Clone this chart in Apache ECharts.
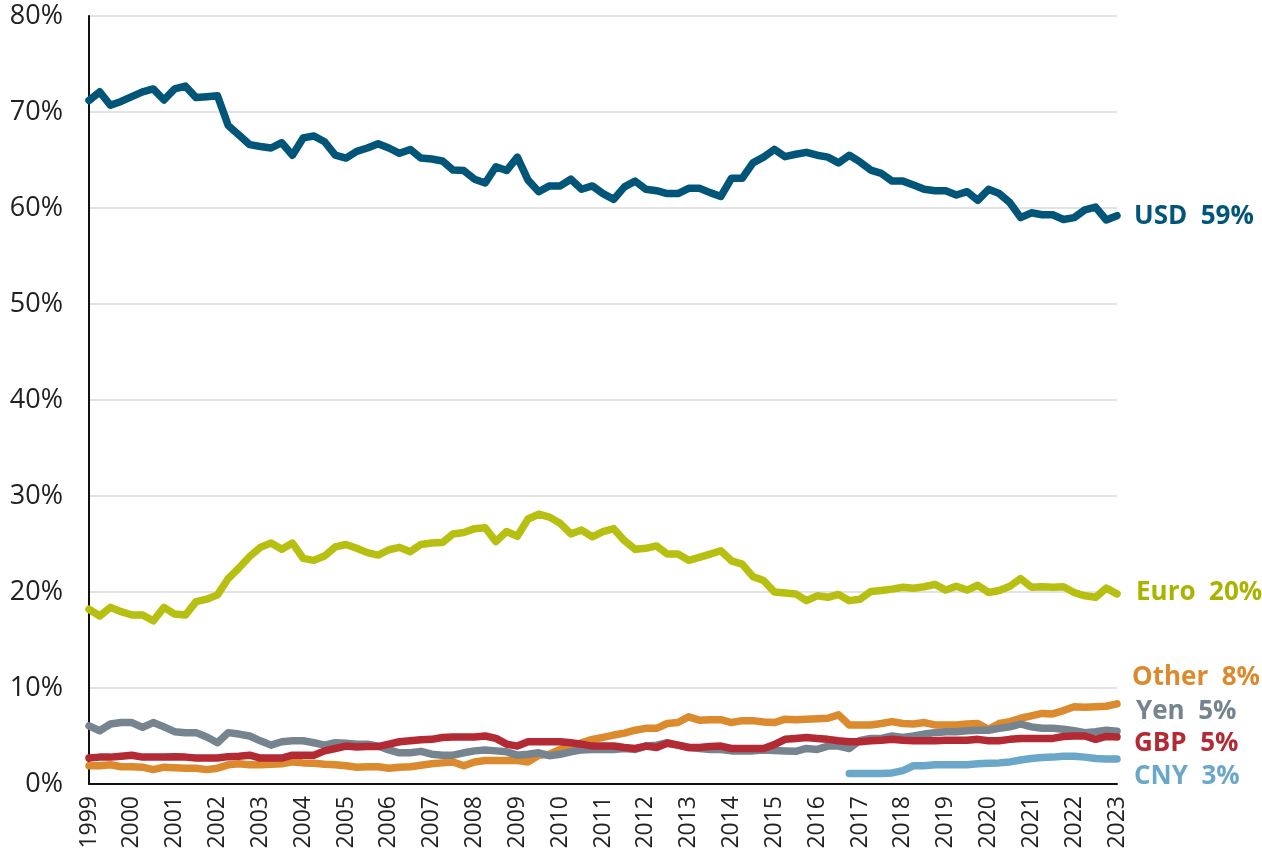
<!DOCTYPE html>
<html>
<head>
<meta charset="utf-8">
<title>Currency shares</title>
<script src="https://cdn.jsdelivr.net/npm/echarts@6/dist/echarts.min.js"></script>
<style>
  html, body { margin: 0; padding: 0; background: #fff; }
  #chart { width: 1262px; height: 865px; }
</style>
</head>
<body>
<div id="chart"></div>
<script>
// quarters 1999Q1 .. 2023Q1
const quarters = [];
for (let y = 1999; y <= 2023; y++) {
  for (let q = 1; q <= 4; q++) {
    if (y === 2023 && q > 1) break;
    quarters.push(y + "Q" + q);
  }
}

const usd = [71.2, 72.1, 70.7, 71.1, 71.6, 72.1, 72.4, 71.25, 72.4, 72.7, 71.5, 71.6, 71.7, 68.6, 67.6, 66.6,
  66.4, 66.25, 66.8, 65.5, 67.3, 67.5, 66.9, 65.5, 65.2, 65.9, 66.25, 66.7, 66.25, 65.7, 66.1, 65.2,
  65.1, 64.9, 63.95, 63.9, 63.0, 62.6, 64.3, 63.9, 65.3, 62.9, 61.7, 62.3, 62.3, 63.0, 61.95, 62.3,
  61.5, 60.9, 62.2, 62.8, 61.95, 61.8, 61.5, 61.5, 62.05, 62.05, 61.6, 61.2, 63.1, 63.1, 64.7, 65.3,
  66.1, 65.35, 65.6, 65.8, 65.5, 65.3, 64.7, 65.5, 64.8, 63.95, 63.6, 62.8, 62.8, 62.4, 61.95, 61.8,
  61.8, 61.35, 61.7, 60.8, 61.95, 61.5, 60.55, 59.0, 59.5, 59.3, 59.3, 58.8, 59.0, 59.8, 60.1, 58.75, 59.2];

const euro = [18.2, 17.5, 18.4, 17.95, 17.6, 17.6, 17.0, 18.4, 17.7, 17.6, 19.0, 19.25, 19.7, 21.4, 22.5, 23.7,
  24.65, 25.1, 24.45, 25.1, 23.5, 23.3, 23.75, 24.7, 24.95, 24.55, 24.1, 23.85, 24.4, 24.65, 24.2, 24.95,
  25.1, 25.15, 26.05, 26.2, 26.6, 26.7, 25.25, 26.3, 25.8, 27.6, 28.1, 27.8, 27.15, 26.05, 26.45, 25.75,
  26.3, 26.6, 25.35, 24.45, 24.55, 24.8, 23.95, 23.95, 23.3, 23.6, 23.95, 24.3, 23.25, 22.9, 21.6, 21.2,
  20.0, 19.9, 19.8, 19.1, 19.6, 19.45, 19.75, 19.1, 19.25, 20.05, 20.15, 20.3, 20.5, 20.4, 20.55, 20.8,
  20.2, 20.6, 20.2, 20.7, 19.95, 20.15, 20.6, 21.4, 20.5, 20.55, 20.5, 20.55, 19.95, 19.6, 19.45, 20.4, 19.8];

const other = [1.9, 1.9, 2.0, 1.8, 1.8, 1.75, 1.5, 1.75, 1.7, 1.65, 1.65, 1.5, 1.65, 2.0, 2.1, 2.0,
  2.0, 2.05, 2.1, 2.3, 2.2, 2.15, 2.05, 2.0, 1.9, 1.75, 1.8, 1.8, 1.65, 1.75, 1.8, 1.95,
  2.1, 2.2, 2.3, 1.9, 2.3, 2.45, 2.45, 2.45, 2.45, 2.3, 3.0, 3.1, 3.6, 3.9, 4.3, 4.65,
  4.85, 5.1, 5.3, 5.6, 5.8, 5.8, 6.3, 6.4, 7.0, 6.65, 6.7, 6.7, 6.4, 6.6, 6.6, 6.45,
  6.4, 6.75, 6.7, 6.75, 6.8, 6.85, 7.2, 6.15, 6.15, 6.15, 6.3, 6.5, 6.3, 6.25, 6.4, 6.15,
  6.15, 6.15, 6.25, 6.3, 5.7, 6.3, 6.5, 6.85, 7.1, 7.35, 7.3, 7.65, 8.05, 8.0, 8.05, 8.1, 8.35];

const yen = [6.05, 5.55, 6.25, 6.4, 6.4, 5.9, 6.4, 5.95, 5.45, 5.35, 5.35, 4.9, 4.3, 5.35, 5.2, 5.0,
  4.5, 4.05, 4.4, 4.5, 4.5, 4.3, 4.05, 4.3, 4.25, 4.15, 4.15, 3.95, 3.55, 3.25, 3.25, 3.4,
  3.1, 3.0, 3.0, 3.25, 3.45, 3.55, 3.45, 3.35, 3.0, 3.1, 3.25, 2.95, 3.1, 3.35, 3.55, 3.6,
  3.6, 3.6, 3.7, 3.6, 3.95, 4.05, 4.3, 4.05, 3.8, 3.7, 3.6, 3.6, 3.45, 3.45, 3.45, 3.55,
  3.5, 3.45, 3.4, 3.7, 3.6, 3.95, 3.95, 3.7, 4.55, 4.75, 4.75, 5.0, 4.85, 5.0, 5.2, 5.35,
  5.45, 5.45, 5.55, 5.6, 5.6, 5.8, 5.95, 6.25, 5.95, 5.8, 5.8, 5.7, 5.55, 5.35, 5.45, 5.6, 5.5];

const gbp = [2.7, 2.8, 2.8, 2.9, 3.0, 2.8, 2.8, 2.8, 2.85, 2.8, 2.7, 2.7, 2.7, 2.85, 2.9, 3.0,
  2.7, 2.7, 2.7, 3.0, 3.0, 3.0, 3.45, 3.7, 3.95, 3.85, 3.9, 3.9, 4.15, 4.4, 4.5, 4.6,
  4.65, 4.85, 4.9, 4.9, 4.9, 5.0, 4.75, 4.15, 3.95, 4.4, 4.4, 4.4, 4.4, 4.3, 4.15, 3.95,
  3.95, 3.95, 3.8, 3.7, 3.95, 3.8, 4.25, 4.05, 3.8, 3.8, 3.9, 3.95, 3.7, 3.7, 3.7, 3.7,
  4.1, 4.65, 4.75, 4.85, 4.75, 4.65, 4.5, 4.4, 4.4, 4.5, 4.55, 4.65, 4.55, 4.5, 4.5, 4.5,
  4.55, 4.55, 4.55, 4.65, 4.5, 4.5, 4.65, 4.75, 4.75, 4.75, 4.75, 4.95, 5.0, 5.0, 4.65, 4.95, 4.9];

// CNY reported from 2016Q4
const cnyStart = "2016Q4";
const cny = [1.1, 1.1, 1.1, 1.1, 1.15, 1.4, 1.9, 1.9, 2.0, 2.0, 2.0, 2.0, 2.1, 2.15, 2.2, 2.3,
  2.5, 2.65, 2.75, 2.8, 2.9, 2.9, 2.8, 2.65, 2.6, 2.6];

// shares printed next to the line ends (as labelled in the source)
const seriesNames = ["USD", "Euro", "Other", "Yen", "GBP", "CNY"];
const endShares = [59, 20, 8, 5, 5, 3];

const yTicks = [0, 10, 20, 30, 40, 50, 60, 70, 80];

const FONT = "'Open Sans', 'Noto Sans', sans-serif";
const startIdx = quarters.indexOf(cnyStart);
const cnyData = quarters.map((q, i) => (i < startIdx ? null : cny[i - startIdx]));

function makeSeries(name, data, color, textColor, offset) {
  const share = endShares[seriesNames.indexOf(name)];
  return {
    name: name,
    type: "line",
    data: data,
    showSymbol: false,
    symbol: "none",
    connectNulls: false,
    lineStyle: { color: color, width: 7.5, cap: "round", join: "round" },
    itemStyle: { color: color },
    emphasis: { disabled: true },
    endLabel: {
      show: true,
      distance: 17,
      offset: offset,
      color: textColor,
      fontFamily: FONT,
      fontSize: 26,
      fontWeight: "bold",
      formatter: () => name + "  " + share + "%",
    },
  };
}

const chart = echarts.init(document.getElementById("chart"));
chart.setOption({
  animation: false,
  backgroundColor: "#fff",
  grid: { left: 89, right: 145, top: 16, bottom: 81, containLabel: false },
  xAxis: {
    type: "category",
    data: quarters,
    boundaryGap: false,
    axisLine: { lineStyle: { color: "#111", width: 2 } },
    axisTick: { show: false },
    axisLabel: {
      interval: 3,
      rotate: 90,
      margin: 12,
      fontFamily: FONT,
      fontSize: 23,
      color: "#222",
      formatter: (v) => v.slice(0, 4),
    },
    splitLine: { show: false },
  },
  yAxis: {
    type: "value",
    min: yTicks[0],
    max: yTicks[yTicks.length - 1],
    interval: 10,
    axisLine: { show: true, lineStyle: { color: "#111", width: 2 } },
    axisTick: { show: false },
    axisLabel: {
      margin: 26,
      fontFamily: FONT,
      fontSize: 27,
      color: "#222",
      formatter: (v) => v + "%",
    },
    splitLine: { lineStyle: { color: "#e3e3e3", width: 2 } },
  },
  series: [
    makeSeries("CNY", cnyData, "#6aa7c9", "#6aa7c9", [0, 18]),
    makeSeries("Other", other, "#db8a2e", "#db8a2e", [-2, -26]),
    makeSeries("Yen", yen, "#76848f", "#76848f", [2, -20]),
    makeSeries("GBP", gbp, "#b32a35", "#b32a35", [0, 7]),
    makeSeries("Euro", euro, "#b7bf10", "#a9b300", [2, -1]),
    makeSeries("USD", usd, "#005578", "#005578", [0, 1]),
  ],
});
</script>
</body>
</html>
